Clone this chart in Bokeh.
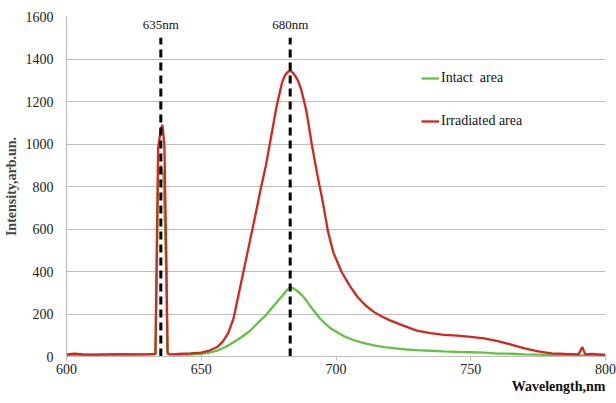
from bokeh.plotting import figure
from bokeh.models import Legend, LegendItem, Title, Range1d, FixedTicker
from bokeh.embed import file_html
from bokeh.resources import INLINE

# Intact area (green)
green_wl = [600, 605, 610, 620, 630, 633, 633.5, 634, 635, 636, 637, 637.5, 640, 645, 650, 653, 656, 659,
            662, 665, 668, 671, 674, 677, 680, 682, 683, 684, 686, 688, 690, 692, 694, 696, 698,
            700, 703, 706, 709, 712, 715, 718, 722, 726, 730, 735, 740, 745, 750, 755, 760,
            765, 770, 775, 780, 790, 800]
green_int = [8, 9, 8, 9, 9, 10, 400, 850, 900, 850, 400, 12, 9, 9, 12, 18, 28, 45,
             67, 92, 120, 158, 195, 240, 285, 315, 325, 322, 305, 280, 245, 212, 180, 155, 132,
             118, 95, 80, 68, 58, 50, 44, 38, 33, 30, 27, 24, 22, 20, 18, 14,
             13, 10, 9, 8, 6, 5]

# Irradiated area (red)
red_wl = [600, 603, 606, 610, 615, 620, 625, 630, 633, 633.5, 634, 635, 635.6, 636.3, 637, 637.5,
          638, 640, 643, 646, 650, 653, 656, 658, 660, 662, 664, 666, 668, 670, 672, 674, 676,
          678, 680, 681, 682, 683, 684, 685, 686, 687, 688, 689, 690, 691, 692, 693, 694, 695,
          697, 699, 702, 705, 708, 711, 714, 717, 720, 725, 730, 735, 740, 745, 750, 755, 760,
          765, 770, 775, 780, 785, 790, 791.4, 792.5, 795, 800]
red_int = [10, 14, 10, 9, 10, 11, 10, 11, 12, 500, 980, 1070, 1090, 1000, 500, 20,
           10, 11, 13, 15, 18, 28, 45, 70, 110, 180, 300, 420, 540, 660, 785, 900, 1040,
           1180, 1290, 1322, 1338, 1346, 1335, 1318, 1295, 1260, 1210, 1155, 1080, 1000, 930, 860, 797, 734,
           590, 490, 400, 335, 280, 240, 210, 188, 170, 145, 122, 110, 102, 98, 92, 85, 72,
           56, 38, 24, 15, 12, 10, 44, 10, 12, 7]

marker_wl = [635, 683]
marker_top = 1500
marker_labels = ["635nm", "680nm"]
label_y = 1562

x_ticks = [600, 650, 700, 750, 800]
y_ticks = [0, 200, 400, 600, 800, 1000, 1200, 1400, 1600]

FONT = "Liberation Serif"

p = figure(width=616, height=403, output_backend="svg", toolbar_location=None,
           x_range=Range1d(600, 800), y_range=Range1d(0, 1600),
           min_border_left=65, min_border_right=11, min_border_top=16, min_border_bottom=47)
p.outline_line_color = None
p.xgrid.grid_line_color = None
p.ygrid.grid_line_color = "#BDBDBD"
p.ygrid.grid_line_width = 1.2

p.xaxis.ticker = FixedTicker(ticks=x_ticks)
p.yaxis.ticker = FixedTicker(ticks=y_ticks)
p.xaxis.minor_tick_line_color = None
p.yaxis.minor_tick_line_color = None
p.yaxis.major_tick_line_color = None
p.xaxis.major_tick_line_color = "#BDBDBD"
p.xaxis.major_tick_in = 0
p.xaxis.major_tick_out = 4
for ax in (p.xaxis, p.yaxis):
    ax.axis_line_color = "#BDBDBD"
    ax.axis_line_width = 1.2
    ax.major_label_text_font = FONT
    ax.major_label_text_font_size = "14px"
    ax.major_label_text_color = "#222222"
p.yaxis.major_label_standoff = 7
p.xaxis.major_label_standoff = 3

p.yaxis.axis_label = "Intensity,arb.un."
p.yaxis.axis_label_text_font = FONT
p.yaxis.axis_label_text_font_style = "bold"
p.yaxis.axis_label_text_font_size = "14px"
p.yaxis.axis_label_standoff = 4

xt = Title(text="Wavelength,nm", align="right", text_font=FONT, text_font_style="bold",
           text_font_size="14px", text_color="#111111", standoff=0)
p.add_layout(xt, "below")

g = p.line(green_wl, green_int, line_color="#63C33F", line_width=2.3)
r = p.line(red_wl, red_int, line_color="#D0281F", line_width=2.3)

p.segment(x0=marker_wl, y0=[0, 0], x1=marker_wl, y1=[marker_top, marker_top],
          line_color="black", line_width=3, line_dash="8 5")
p.text(x=marker_wl, y=[label_y, label_y], text=marker_labels, text_align="center",
       text_baseline="middle", text_font={"value": FONT}, text_font_size={"value": "13px"},
       text_color="#111111")

legend = Legend(items=[LegendItem(label="Intact  area", renderers=[g]),
                       LegendItem(label="Irradiated area", renderers=[r])],
                location=(355, 225), orientation="vertical",
                label_text_font=FONT, label_text_font_size="14px", label_text_color="#111111",
                glyph_width=18, glyph_height=20, label_height=20, spacing=23,
                padding=0, margin=0, label_standoff=2,
                border_line_color=None, background_fill_alpha=0)
p.add_layout(legend, "center")

open("out.html", "w").write(file_html(p, INLINE))
